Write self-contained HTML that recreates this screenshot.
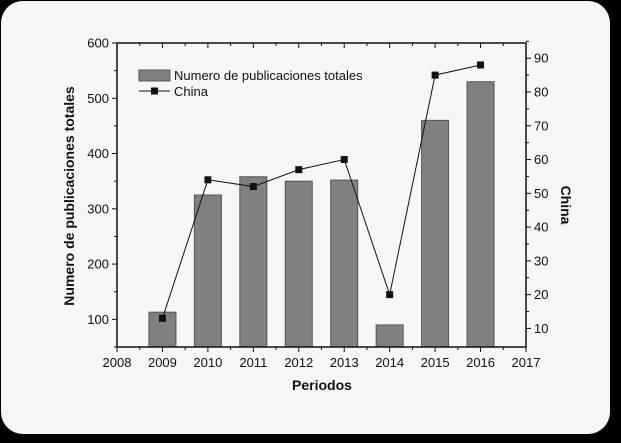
<!DOCTYPE html>
<html><head><meta charset="utf-8"><style>
body{margin:0;background:#000;width:621px;height:443px;overflow:hidden}
svg{display:block;font-family:"Liberation Sans",Arial,sans-serif}
</style></head><body>
<svg width="621" height="443">
<rect x="1" y="1" width="609" height="433" rx="22" fill="#f6f6f6"/>
<g id="plot"></g>
</svg>
<script>
const years=[2009,2010,2011,2012,2013,2014,2015,2016];
const totals=[113,325,358,350,352,90,460,530];
const china=[13,54,52,57,60,20,85,88];
const xTicks=[2008,2009,2010,2011,2012,2013,2014,2015,2016,2017];
const yLeftTicks=[100,200,300,400,500,600];
const yRightTicks=[10,20,30,40,50,60,70,80,90];
const L=117,R=526,T=43,B=347;
const x=v=>L+(v-2008)/9*(R-L);
const yl=v=>B-(v-50)/550*(B-T);
const yr=v=>B-(v-4.5)/90*(B-T);
const g=document.getElementById('plot');
const NS='http://www.w3.org/2000/svg';
function el(t,a,p){const e=document.createElementNS(NS,t);for(const k in a)e.setAttribute(k,a[k]);(p||g).appendChild(e);return e;}
const bw=27;
years.forEach((yv,i)=>{
 const r=el('rect',{x:x(yv)-bw/2,y:yl(totals[i]),width:bw,height:B-yl(totals[i]),fill:'#808080',stroke:'#555','stroke-width':1});
 
 
});
const pl=el('polyline',{points:years.map((yv,i)=>x(yv)+','+yr(china[i])).join(' '),fill:'none',stroke:'#111','stroke-width':1});


years.forEach((yv,i)=>{
 const m=el('rect',{x:x(yv)-3.5,y:yr(china[i])-3.5,width:7,height:7,fill:'#111'});
 
 
});
const fr=el('rect',{x:L,y:T,width:R-L,height:B-T,fill:'none',stroke:'#111','stroke-width':1.5});


xTicks.forEach(v=>{
 el('line',{x1:x(v),x2:x(v),y1:B,y2:B+5,stroke:'#111'});
 el('line',{x1:x(v),x2:x(v),y1:T,y2:T+5,stroke:'#111'});
 if(v<2017){el('line',{x1:x(v+0.5),x2:x(v+0.5),y1:B,y2:B+3,stroke:'#111'});el('line',{x1:x(v+0.5),x2:x(v+0.5),y1:T,y2:T+3,stroke:'#111'});}
 const t=el('text',{x:x(v),y:B+20,'text-anchor':'middle','font-size':13,fill:'#111'});t.textContent=v;
 
 
});
yLeftTicks.forEach(v=>{
 el('line',{x1:L-5,x2:L,y1:yl(v),y2:yl(v),stroke:'#111'});
 el('line',{x1:L-3,x2:L,y1:yl(v-50),y2:yl(v-50),stroke:'#111'});
 const t=el('text',{x:L-8,y:yl(v)+4.5,'text-anchor':'end','font-size':13,fill:'#111'});t.textContent=v;
 
 
});
yRightTicks.forEach(v=>{
 el('line',{x1:R,x2:R+5,y1:yr(v),y2:yr(v),stroke:'#111'});
 el('line',{x1:R,x2:R+3,y1:yr(v+5),y2:yr(v+5),stroke:'#111'});
 const t=el('text',{x:R+8,y:yr(v)+4.5,'font-size':13,fill:'#111'});t.textContent=v;
 
 
});
</script>
<svg style="position:absolute;left:0;top:0" width="621" height="443">
<text x="322" y="390" text-anchor="middle" font-size="14" font-weight="bold" fill="#111">Periodos</text>
<text transform="translate(74,196) rotate(-90)" text-anchor="middle" font-size="14" font-weight="bold" fill="#111">Numero de publicaciones totales</text>
<text transform="translate(561,205) rotate(90)" text-anchor="middle" font-size="14" font-weight="bold" fill="#111">China</text>
<g>
<rect x="139" y="70" width="31" height="11" fill="#808080" stroke="#555"/>
<text x="174" y="80" font-size="13" fill="#111">Numero de publicaciones totales</text>
<line x1="139" x2="170" y1="91" y2="91" stroke="#111"/>
<rect x="151" y="87.5" width="7" height="7" fill="#111"/>
<text x="174" y="96" font-size="13" fill="#111">China</text>
</g>
</svg>
</body></html>
